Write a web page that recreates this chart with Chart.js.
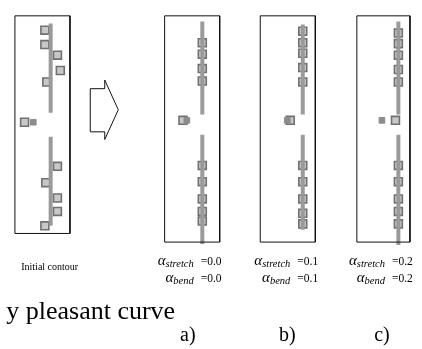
<!DOCTYPE html>
<html>
<head>
<meta charset="utf-8">
<script src="https://cdn.jsdelivr.net/npm/chart.js@4.4.1/dist/chart.umd.min.js"></script>
<style>
  body { margin: 0; background: #fff; }
  #wrap { width: 422px; height: 349px; }
</style>
</head>
<body>
<div id="wrap"><canvas id="fig" width="422" height="349"></canvas></div>
<script>
// box positions (x, y), one list per panel
let boxesInitial = [[39,24],[39,39],[52,50],[55,66],[41,78],[18,120],[52,166],[40,183],[52,199],[52,213],[39,228]];
let boxesA = [[202,37],[202,49],[202,64],[202,77],[182,118],[202,165],[202,182],[202,200],[202,213],[202,223]];
let boxesB = [[306,25],[306,37],[306,48],[306,63],[306,78],[293,118],[306,165],[306,182],[306,200],[306,215],[306,226]];
let boxesC = [[405,27],[405,38],[405,50],[405,65],[405,78],[402,118],[405,165],[405,182],[405,200],[405,213],[405,226]];

// the grey contour lines: [x, yTop1, yBottom1, yTop2, yBottom2]
let contours = [[45,17,110,135,228],[202,15,112,133,247],[306,18,112,133,232],[405,15,112,133,248]];
// dark fragments next to the isolated point
let fragments = [[27,120],[186,118],[290,118],[388,118]];

// panel frames: [left, top, right, bottom]
let frames = [[8,9,65,236],[163,9,220,245],[262,9,319,245],[362,9,417,245]];
let arrow = [[86,85],[101,85],[101,76],[115,107],[101,138],[101,130],[86,130],[86,85]];

let alphaValues = ["0.0", "0.1", "0.2"];
let panelLabels = ["a)", "b)", "c)"];

function pts(list) {
    return list.map(p => ({x: p[0], y: p[1]}));
}

let datasets = [];
for (let i = 0; i < frames.length; i++) {
    let f = frames[i];
    datasets.push({
        type: "line",
        data: pts([[f[0],f[1]],[f[2],f[1]],[f[2],f[3]],[f[0],f[3]],[f[0],f[1]]]),
        borderColor: "#111", borderWidth: 1, pointRadius: 0, tension: 0
    });
}
datasets.push({
    type: "line", data: pts(arrow),
    borderColor: "#111", borderWidth: 1, pointRadius: 0, tension: 0
});
for (let i = 0; i < contours.length; i++) {
    let c = contours[i];
    datasets.push({
        type: "line",
        data: [{x: c[0], y: c[1]}, {x: c[0], y: c[2]}, {x: c[0], y: null}, {x: c[0], y: c[3]}, {x: c[0], y: c[4]}],
        borderColor: "#9a9a9a", borderWidth: 4, pointRadius: 0, spanGaps: false
    });
}
datasets.push({
    type: "scatter", data: pts(fragments),
    pointStyle: "rect", pointRadius: 4, backgroundColor: "#8c8c8c", borderColor: "#8c8c8c",
    rotation: 0
});
let allBoxes = [boxesInitial, boxesA, boxesB, boxesC];
for (let i = 0; i < allBoxes.length; i++) {
    datasets.push({
        type: "scatter", data: pts(allBoxes[i]),
        pointStyle: "rect", pointRadius: 5.6, backgroundColor: "#c8c8c8",
        borderColor: "#707070", borderWidth: 1.6
    });
    datasets.push({
        type: "scatter", data: pts(allBoxes[i]),
        pointStyle: "circle", pointRadius: 1, backgroundColor: "#333", borderWidth: 0
    });
}

let textPlugin = {
    id: "texts",
    afterDatasetsDraw(chart) {
        let ctx = chart.ctx;
        let sx = chart.scales.x, sy = chart.scales.y;
        ctx.save();
        ctx.fillStyle = "#000";
        ctx.textBaseline = "alphabetic";

        ctx.font = "10px 'Liberation Serif'";
        ctx.textAlign = "center";
        ctx.fillText("Initial contour", sx.getPixelForValue(44), sy.getPixelForValue(274));

        ctx.font = "26px 'Liberation Serif'";
        ctx.textAlign = "left";
        ctx.fillText("y pleasant curve", sx.getPixelForValue(-1), sy.getPixelForValue(325));

        let labelX = [187, 290, 388];
        let rightX = [222, 322, 420];
        ctx.font = "20px 'Liberation Serif'";
        ctx.textAlign = "center";
        for (let i = 0; i < panelLabels.length; i++) {
            ctx.fillText(panelLabels[i], sx.getPixelForValue(labelX[i]), sy.getPixelForValue(348));
        }

        ctx.textAlign = "left";
        let subs = [["stretch", 269], ["bend", 287]];
        for (let i = 0; i < alphaValues.length; i++) {
            for (let s of subs) {
                let value = "=" + alphaValues[i];
                ctx.font = "italic 15px 'Liberation Serif'";
                let wA = ctx.measureText("\u03b1").width;
                ctx.font = "italic 10.5px 'Liberation Serif'";
                let wS = ctx.measureText(s[0]).width;
                ctx.font = "11.5px 'Liberation Serif'";
                let wV = ctx.measureText(value).width;
                let gap = 7;
                let x = sx.getPixelForValue(rightX[i]) - (wA + wS + gap + wV);
                let y = sy.getPixelForValue(s[1]);
                ctx.font = "italic 15px 'Liberation Serif'";
                ctx.fillText("\u03b1", x, y);
                ctx.font = "italic 10.5px 'Liberation Serif'";
                ctx.fillText(s[0], x + wA, y + 2);
                ctx.font = "11.5px 'Liberation Serif'";
                ctx.fillText(value, x + wA + wS + gap, y);
            }
        }
        ctx.restore();
    }
};

new Chart(document.getElementById("fig").getContext("2d"), {
    type: "scatter",
    data: { datasets: datasets },
    options: {
        responsive: false,
        animation: false,
        devicePixelRatio: 1,
        layout: { padding: 0 },
        plugins: { legend: { display: false }, tooltip: { enabled: false } },
        scales: {
            x: { type: "linear", min: 0, max: 422, display: false },
            y: { type: "linear", min: 0, max: 349, reverse: true, display: false }
        }
    },
    plugins: [textPlugin]
});
</script>
</body>
</html>
